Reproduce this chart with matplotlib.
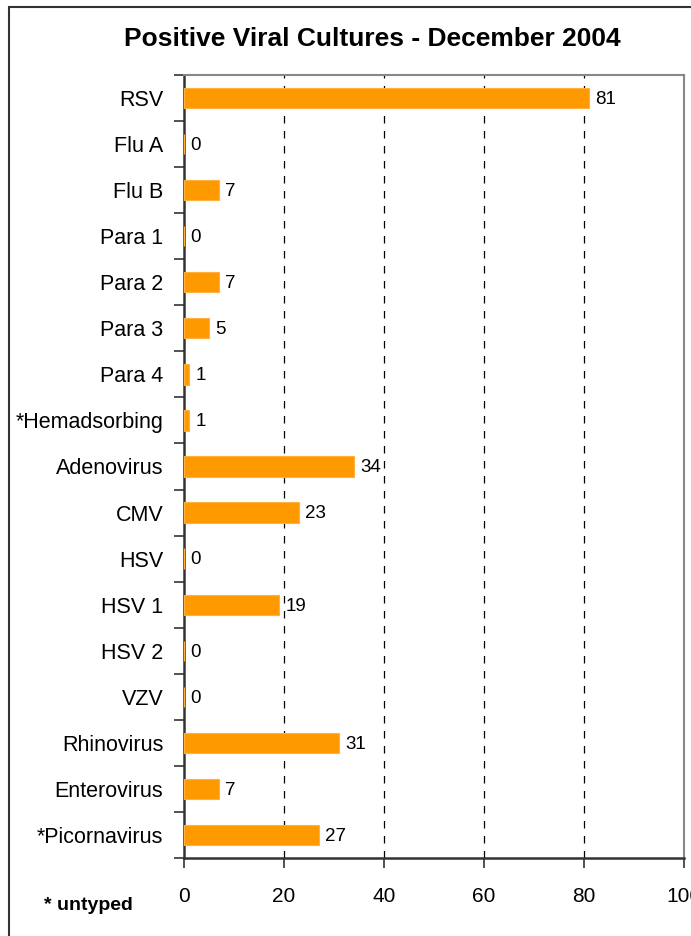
import matplotlib
matplotlib.use("Agg")
import matplotlib.pyplot as plt
from matplotlib.patches import Rectangle

categories = ["RSV", "Flu A", "Flu B", "Para 1", "Para 2", "Para 3", "Para 4",
              "*Hemadsorbing", "Adenovirus", "CMV", "HSV", "HSV 1", "HSV 2",
              "VZV", "Rhinovirus", "Enterovirus", "*Picornavirus"]
values = [81, 0, 7, 0, 7, 5, 1, 1, 34, 23, 0, 19, 0, 0, 31, 7, 27]
xticks = [0, 20, 40, 60, 80, 100]
title = "Positive Viral Cultures - December 2004"
footnote = "* untyped"

plt.rcParams["font.family"] = ["Liberation Sans", "DejaVu Sans"]

fig = plt.figure(figsize=(6.91, 9.36), dpi=100)
ax = fig.add_axes([184/691, 1-858/936, 500/691, (858-75)/936])

n = len(categories)
ypos = list(range(n))
ax.barh(ypos, values, height=0.44, color="#FF9900", edgecolor="#FFB040", linewidth=0.8, zorder=3)
for y, v in zip(ypos, values):
    ax.text(v + 1.3, y + 0.03, str(v), va="center", ha="left", fontsize=13.5, zorder=4)

ax.set_ylim(n - 0.5, -0.5)
ax.set_xlim(0, 100)
ax.set_yticks([i - 0.5 for i in range(n + 1)])
ax.set_yticklabels([])
ax.set_yticks(ypos, minor=True)
ax.set_yticklabels(categories, minor=True, fontsize=15.5)
ax.tick_params(axis="y", which="minor", length=0, pad=15)
ax.tick_params(axis="y", which="major", length=7, width=1.2, color="#333333", direction="out")
ax.set_xticks(xticks)
ax.set_xticklabels([str(t) for t in xticks], fontsize=15)
ax.tick_params(axis="x", length=7, width=1.2, color="#333333", direction="out", pad=14)
for x in xticks[1:-1]:
    ax.axvline(x, color="black", linestyle=(0, (6, 6)), linewidth=0.9, zorder=1)
for s in ["top", "right"]:
    ax.spines[s].set_color("#888888")
    ax.spines[s].set_linewidth(1.5)
for s in ["left", "bottom"]:
    ax.spines[s].set_color("#333333")
    ax.spines[s].set_linewidth(1.8)

fig.text(372/691, 1-39/936, title, ha="center", va="center", fontsize=19, fontweight="bold")
fig.text(88/691, 1-905/936, footnote, ha="center", va="center", fontsize=14, fontweight="bold")

fig.patches.append(Rectangle((9/691, -0.1), 1.2, 1.1 - 7/936, transform=fig.transFigure,
                             fill=False, edgecolor="#333333", linewidth=1.5))

fig.savefig("out.png", dpi=100)
